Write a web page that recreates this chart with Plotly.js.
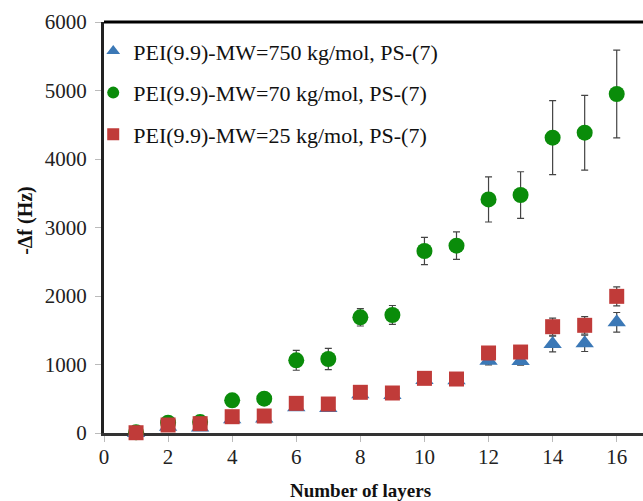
<!DOCTYPE html>
<html>
<head>
<meta charset="utf-8">
<script src="https://cdn.plot.ly/plotly-3.0.1.min.js"></script>
<style>html,body{margin:0;padding:0;background:#fff;}#chart{width:643px;height:501px;}</style>
</head>
<body>
<div id="chart"></div>
<script>
// Number of layers
const layers = [1,2,3,4,5,6,7,8,9,10,11,12,13,14,15,16];

// PEI(9.9)-MW=750 kg/mol, PS-(7)
const mw750 = [0, 90, 80, 200, 210, 375, 365, 565, 555, 775, 770, 1055, 1050, 1300, 1310, 1616];
const mw750Err = [10, 15, 15, 20, 20, 25, 25, 30, 30, 40, 40, 60, 60, 115, 120, 143];

// PEI(9.9)-MW=70 kg/mol, PS-(7)
const mw70 = [10, 150, 160, 477, 501, 1061, 1080, 1689, 1723, 2657, 2735, 3410, 3474, 4311, 4384, 4949];
const mw70Err = [10, 20, 20, 30, 30, 145, 155, 127, 138, 200, 200, 330, 340, 540, 545, 640];

// PEI(9.9)-MW=25 kg/mol, PS-(7)
const mw25 = [4, 117, 136, 238, 248, 433, 423, 594, 584, 798, 788, 1168, 1182, 1552, 1572, 1995];
const mw25Err = [10, 15, 15, 20, 20, 25, 25, 30, 30, 45, 45, 60, 80, 125, 127, 138];

const seriesNames = [
  'PEI(9.9)-MW=750 kg/mol, PS-(7)',
  'PEI(9.9)-MW=70 kg/mol, PS-(7)',
  'PEI(9.9)-MW=25 kg/mol, PS-(7)'
];
const xTicks = [0,2,4,6,8,10,12,14,16];
const yTicks = [0,1000,2000,3000,4000,5000,6000];

const errStyle = (arr) => ({type:'data', array: arr, visible:true, color:'#444', thickness:1.2, width:3.5});

const traces = [
  {x: layers, y: mw750, error_y: errStyle(mw750Err), name: seriesNames[0], legendgroup:'a',
   mode:'markers', type:'scatter', cliponaxis:false,
   marker:{symbol:'triangle-up', size:16, color:'#3B78B6', line:{width:0}}},
  {x: layers, y: mw70, error_y: errStyle(mw70Err), name: seriesNames[1], legendgroup:'b',
   mode:'markers', type:'scatter', cliponaxis:false,
   marker:{symbol:'circle', size:16, color:'#0A8C0A', line:{width:0}}},
  {x: layers, y: mw25, error_y: errStyle(mw25Err), name: seriesNames[2], legendgroup:'c',
   mode:'markers', type:'scatter', cliponaxis:false,
   marker:{symbol:'square', size:15, color:'#C03B39', line:{width:0}}}
];

const font = 'Liberation Serif, "Times New Roman", serif';

const layout = {
  width: 643, height: 501,
  margin: {l:104, r:0, t:22, b:68, pad:0},
  paper_bgcolor:'#fff', plot_bgcolor:'#fff',
  font: {family: font, size: 21, color:'#222'},
  showlegend: true,
  legend: {x: -0.02, y: 0.98, xanchor:'left', yanchor:'top', bgcolor:'rgba(0,0,0,0)',
           font:{family:font, size:22, color:'#111'}, tracegroupgap: 10, itemwidth:30,
           itemsizing:'constant'},
  xaxis: {range:[0, 16.82], tickvals: xTicks, ticktext: xTicks.map(String),
          showgrid:false, zeroline:false, showline:true, linecolor:'#333', linewidth:3,
          ticks:'outside', ticklen:6, tickcolor:'#bbb', tickwidth:1, layer:'below traces',
          ticklabelstandoff:-3,
          mirror:false, tickfont:{family:font, size:21, color:'#222'}},
  yaxis: {range:[0, 6000], tickvals: yTicks, ticktext: yTicks.map(String),
          showgrid:false, zeroline:false, showline:true, linecolor:'#222', linewidth:3,
          ticks:'outside', ticklen:6, tickcolor:'#bbb', tickwidth:1, layer:'below traces',
          ticklabelstandoff:4,
          tickfont:{family:font, size:21, color:'#222'}},
  shapes: [
    {type:'line', xref:'paper', yref:'paper', x0:0, x1:1, y0:1, y1:1, line:{color:'#000', width:3}}
  ],
  annotations: [
    {text:'<b>-Δf (Hz)</b>', xref:'paper', yref:'paper', x:-0.147, y:0.518, textangle:-90,
     showarrow:false, xanchor:'center', yanchor:'middle', font:{family:font, size:20, color:'#111'}},
    {text:'<b>Number of layers</b>', xref:'x', yref:'paper', x:8, y:-0.139,
     showarrow:false, xanchor:'center', yanchor:'middle', font:{family:font, size:19, color:'#111'}}
  ]
};

Plotly.newPlot('chart', traces, layout, {displayModeBar:false, staticPlot:true});
</script>
</body>
</html>
